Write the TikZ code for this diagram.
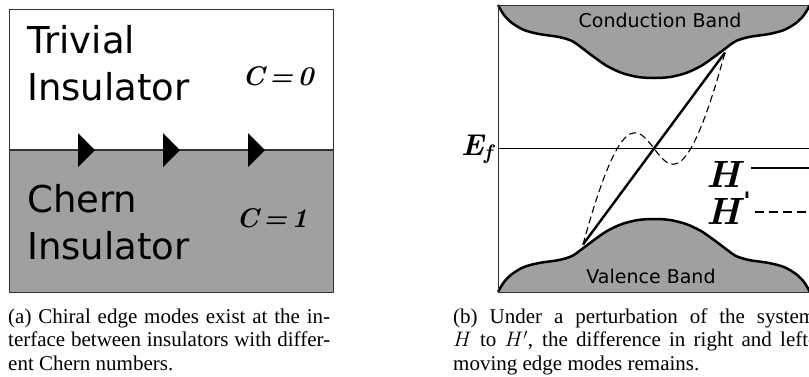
\RequirePackage{fix-cm}
\documentclass[tikz,border=0pt]{standalone}
\usepackage{fontspec}
\newfontfamily\labelsans{DejaVu Sans}
\newfontfamily\capserif{Liberation Serif}
\usetikzlibrary{positioning}
\definecolor{bandgray}{HTML}{A0A0A0}
\definecolor{framegrey}{HTML}{333333}
\tikzset{
  panelframe/.style={draw=framegrey, line width=1pt},
  chernfill/.style ={fill=bandgray},
  interface/.style ={draw=framegrey, line width=1.3pt},
  edgemode/.style  ={fill=black},
  bandfill/.style  ={fill=bandgray},
  bandline/.style  ={draw=black, line width=2.5pt, line join=round},
  % one half of the band edge, drawn about the Fermi point; the valence
  % band is the same path flipped with yscale=-1
  bandedge/.style={insert path={plot[smooth] coordinates {
      (-156,-143.5) (-150,-133.5) (-142,-125.5) (-130,-118.5) (-115,-114.5)
      (-95,-111.5) (-82,-107.5) (-72,-100.5) (-60,-91.5) (-47,-82.5)
      (-32,-75.5) (-16,-71.5) (0,-70.5) (16,-71.5) (32,-75.5) (47,-82.5)
      (60,-91.5) (72,-100.5) (82,-107.5) (95,-111.5) (115,-114.5)
      (130,-118.5) (142,-125.5) (150,-133.5) (156,-143.5)}}},
  fermiline/.style ={draw=black, line width=0.9pt},
  hline/.style     ={draw=black, line width=2.4pt},
  hpline/.style    ={draw=black, line width=1.1pt, dash pattern=on 7pt off 4pt},
  hpkey/.style     ={draw=black, line width=2.2pt, dash pattern=on 9pt off 5pt},
  sanslabel/.style ={font=\labelsans\fontsize{37}{47}\selectfont, align=left,
                     inner sep=0pt},
  bandlabel/.style ={font=\labelsans\fontsize{19}{22}\selectfont, inner sep=0pt},
  chernno/.style   ={font=\bfseries\itshape\fontsize{27}{30}\selectfont, inner sep=0pt},
  fermilabel/.style={font=\bfseries\itshape\fontsize{30}{32}\selectfont, inner sep=0pt},
  legend/.style    ={font=\bfseries\itshape\fontsize{38}{40}\selectfont, inner sep=0pt},
  caption/.style   ={font=\capserif\fontsize{21}{23.5}\selectfont, align=justify,
                     inner sep=0pt},
}

\begin{document}
\begin{tikzpicture}[x=1pt, y=-1pt]
\useasboundingbox (0,0) rectangle (809,376);

% ---------------------------------------------------------------- panel (a)
\fill[chernfill] (9,150) rectangle (333,292);
\draw[interface] (9,150) -- (333,150);
\foreach \x in {78,163,248}
  \fill[edgemode] (\x,133) -- ++(17,17) -- ++(-17,17) -- cycle;
\draw[panelframe] (9,9) rectangle (333,292);

\node[sanslabel, anchor=north west] (trivial) at (27,25) {Trivial\\Insulator};
\node[sanslabel, anchor=north west] (chernins) at (27,184) {Chern\\Insulator};
\node[chernno, anchor=base] (czero) at (278,85) {C\,=\,0};
\node[chernno, anchor=base] (cone) at (272,227) {C\,=\,1};

% ---------------------------------------------------------------- panel (b)
\coordinate (fermi) at (654,148.5);
\begin{scope}[shift={(fermi)}]
  \fill[bandfill, bandedge] -- cycle;
  \draw[bandline, bandedge];
\end{scope}
\begin{scope}[shift={(fermi)}, yscale=-1]
  \fill[bandfill, bandedge] -- cycle;
  \draw[bandline, bandedge];
\end{scope}

\draw[fermiline] (498,148) -- (810,148);

% edge mode of H and of the perturbed H'
\coordinate (vpt) at (583,244.5);
\coordinate (cpt) at (725,52.5);
\coordinate (vctl) at (659.4,-33.5);
\coordinate (cctl) at (648.6,330.5);
\draw[hline] (vpt) -- (cpt);
\draw[hpline] (vpt) .. controls (vctl) and (cctl) .. (cpt);

\draw[panelframe] (498,5) rectangle (810,292);

\node[bandlabel, anchor=base] (cband) at (660,27) {Conduction Band};
\node[bandlabel, anchor=base] (vband) at (651,283) {Valence Band};
\node[fermilabel, anchor=base east] (ef) at (493,155) {E\textsubscript{f}};

% legend
\node[legend, anchor=base west] (hleg) at (706,187) {H};
\node[legend, anchor=base west] (hpleg) at (706,224)
  {H\kern3pt\raisebox{15pt}{\labelsans\fontsize{24}{24}\selectfont '}};
\coordinate (hkeyA) at (751,168);
\coordinate (hkeyB) at (812,168);
\coordinate (hpkeyA) at (755,212);
\coordinate (hpkeyB) at (809,212);
\draw[hline] (hkeyA) -- (hkeyB);
\draw[hpkey] (hpkeyA) -- (hpkeyB);

% ---------------------------------------------------------------- captions
\node[caption, text width=322pt, anchor=north west] (capa) at (8,308.5)
  {(a) Chiral edge modes exist at the in-\linebreak terface between insulators
   with differ-\linebreak ent Chern numbers.};
\node[caption, text width=362pt, anchor=north west] (capb) at (453,308.5)
  {(b) Under a perturbation of the system\linebreak $H$ to $H'$, the difference
   in right and left-\linebreak moving edge modes remains.};

\end{tikzpicture}
\end{document}
